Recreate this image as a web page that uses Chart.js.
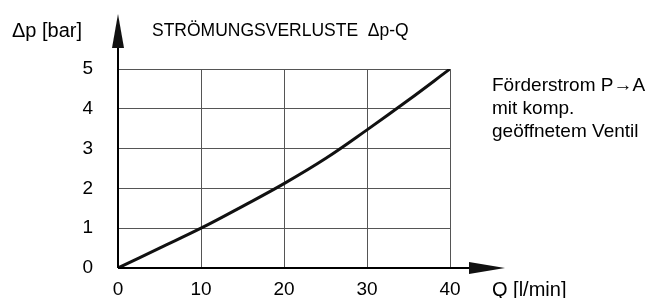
<!DOCTYPE html>
<html>
<head>
<meta charset="utf-8">
<script src="https://cdn.jsdelivr.net/npm/chart.js@4/dist/chart.umd.min.js"></script>
<style>
  html, body { margin: 0; padding: 0; background: #fff; }
  #wrap { width: 653px; height: 298px; position: relative; }
</style>
</head>
<body>
<div id="wrap"><canvas id="lossChart"></canvas></div>
<script>
// values (Q in l/min, delta p in bar)
const flowQ = [0, 5, 10, 15, 20, 25, 30, 35, 40];
const pressureDrop = [0, 0.5, 1.0, 1.55, 2.12, 2.75, 3.47, 4.22, 5.0];
const xTicks = [0, 10, 20, 30, 40];
const yTicks = [0, 1, 2, 3, 4, 5];

const FONT = '"Liberation Sans", Arial, sans-serif';

// axis arrows + free text
const decorations = {
    id: 'decorations',
    afterDraw(chart) {
        const c = chart.ctx;
        const x = chart.scales.x;
        const y = chart.scales.y;
        const x0 = x.getPixelForValue(0);
        const y0 = y.getPixelForValue(0);

        c.save();
        c.strokeStyle = '#000';
        c.fillStyle = '#111';
        c.lineWidth = 2;

        // y axis line up to arrow
        c.beginPath();
        c.moveTo(x0, y0);
        c.lineTo(x0, y.top - 22);
        c.stroke();
        c.beginPath();
        c.moveTo(x0, y.top - 55);
        c.lineTo(x0 - 6, y.top - 21);
        c.lineTo(x0 + 6, y.top - 21);
        c.closePath();
        c.fill();

        // x axis line to arrow
        c.beginPath();
        c.moveTo(x0, y0);
        c.lineTo(x.right + 20, y0);
        c.stroke();
        c.beginPath();
        c.moveTo(x.right + 55, y0);
        c.lineTo(x.right + 19, y0 - 6);
        c.lineTo(x.right + 19, y0 + 6);
        c.closePath();
        c.fill();

        c.fillStyle = '#000';
        c.textBaseline = 'middle';
        c.textAlign = 'left';
        c.font = '20px ' + FONT;
        c.fillText('\u0394p [bar]', 12, 31);
        c.fillText('Q [l/min]', x.right + 42, 290);

        c.font = '17.5px ' + FONT;
        c.fillText('STR\u00d6MUNGSVERLUSTE  \u0394p-Q', x0 + 34, 31);

        c.font = '19px ' + FONT;
        const lines = ['F\u00f6rderstrom P\u2192A', 'mit komp.', 'ge\u00f6ffnetem Ventil'];
        lines.forEach((t, i) => c.fillText(t, x.right + 42, 86 + i * 23));
        c.restore();
    }
};

const ctx = document.getElementById('lossChart').getContext('2d');
const chart = new Chart(ctx, {
    type: 'line',
    data: {
        datasets: [{
            data: flowQ.map((q, i) => ({ x: q, y: pressureDrop[i] })),
            borderColor: '#111',
            borderWidth: 3,
            pointRadius: 0,
            tension: 0.4,
            fill: false
        }]
    },
    options: {
        responsive: true,
        maintainAspectRatio: false,
        animation: false,
        layout: { padding: { top: 69, right: 203, left: 0, bottom: 0 } },
        plugins: {
            legend: { display: false },
            tooltip: { enabled: false }
        },
        scales: {
            x: {
                type: 'linear',
                min: 0,
                max: 40,
                afterBuildTicks: (s) => { s.ticks = xTicks.map(v => ({ value: v })); },
                afterFit: (s) => { s.height = 30; },
                grid: { color: '#555', lineWidth: 1, drawTicks: false },
                border: { display: false },
                ticks: { color: '#000', font: { size: 19, family: FONT }, padding: 10.6, maxRotation: 0 }
            },
            y: {
                min: 0,
                max: 5,
                afterBuildTicks: (s) => { s.ticks = yTicks.map(v => ({ value: v })); },
                afterFit: (s) => { s.width = 118; },
                grid: { color: '#555', lineWidth: 1, drawTicks: false },
                border: { display: false },
                // small lineHeight so the label overhang does not eat into the plot height
                ticks: { color: '#000', font: { size: 19, family: FONT, lineHeight: 0.5 }, padding: 25 }
            }
        }
    },
    plugins: [decorations]
});
</script>
</body>
</html>
